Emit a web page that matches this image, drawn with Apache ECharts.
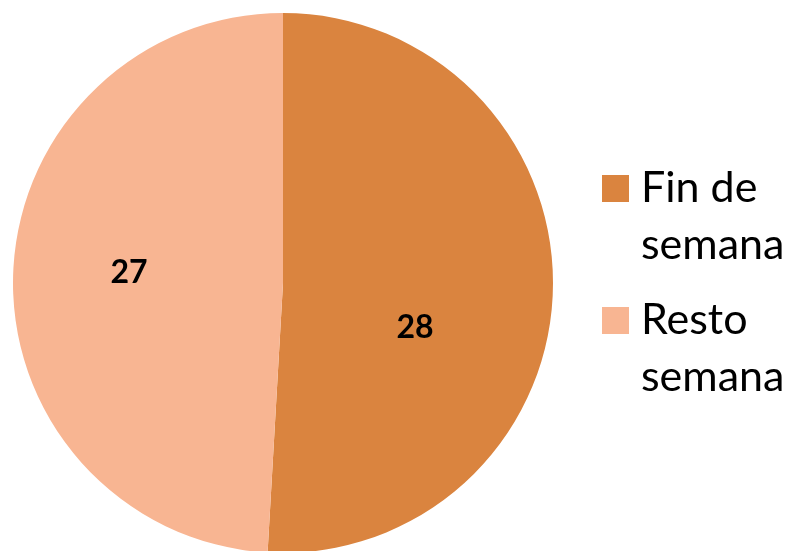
<!DOCTYPE html>
<html>
<head>
<meta charset="utf-8">
<script src="https://cdn.jsdelivr.net/npm/echarts@6/dist/echarts.min.js"></script>
<style>
  html, body { margin: 0; padding: 0; background: #fff; }
  #chart { width: 796px; height: 551px; }
</style>
</head>
<body>
<div id="chart"></div>
<script>
const categories = ['Fin de semana', 'Resto semana']
// leading empty line keeps the first text line level with the legend square
const legendLabels = ['\nFin de\nsemana', '\nResto\nsemana']
const values = [28, 27]
const colors = ['#DA843F', '#F8B592']
const labelOffsets = [[-6, 41], [-16, -6]]

const chart = echarts.init(document.getElementById('chart'))

chart.setOption({
  animation: false,
  legend: {
    orient: 'vertical',
    left: 597,
    top: 98,
    itemWidth: 27,
    itemHeight: 27,
    itemGap: -39,
    icon: 'rect',
    formatter: name => legendLabels[categories.indexOf(name)],
    textStyle: {
      fontFamily: 'Lato',
      fontSize: 43,
      lineHeight: 57,
      color: '#000',
      padding: [0, 0, 0, 7]
    },
    data: categories
  },
  series: [
    {
      type: 'pie',
      center: [283, 283],
      radius: 270,
      startAngle: 90,
      clockwise: true,
      emphasis: { disabled: true },
      itemStyle: { borderWidth: 0 },
      label: {
        position: 'inside',
        color: '#000',
        fontFamily: 'Lato',
        fontWeight: 'bold',
        fontSize: 32,
        formatter: '{c}'
      },
      labelLine: { show: false },
      data: categories.map((name, i) => ({
        name,
        value: values[i],
        itemStyle: { color: colors[i] },
        label: { offset: labelOffsets[i] }
      }))
    }
  ]
})
</script>
</body>
</html>
